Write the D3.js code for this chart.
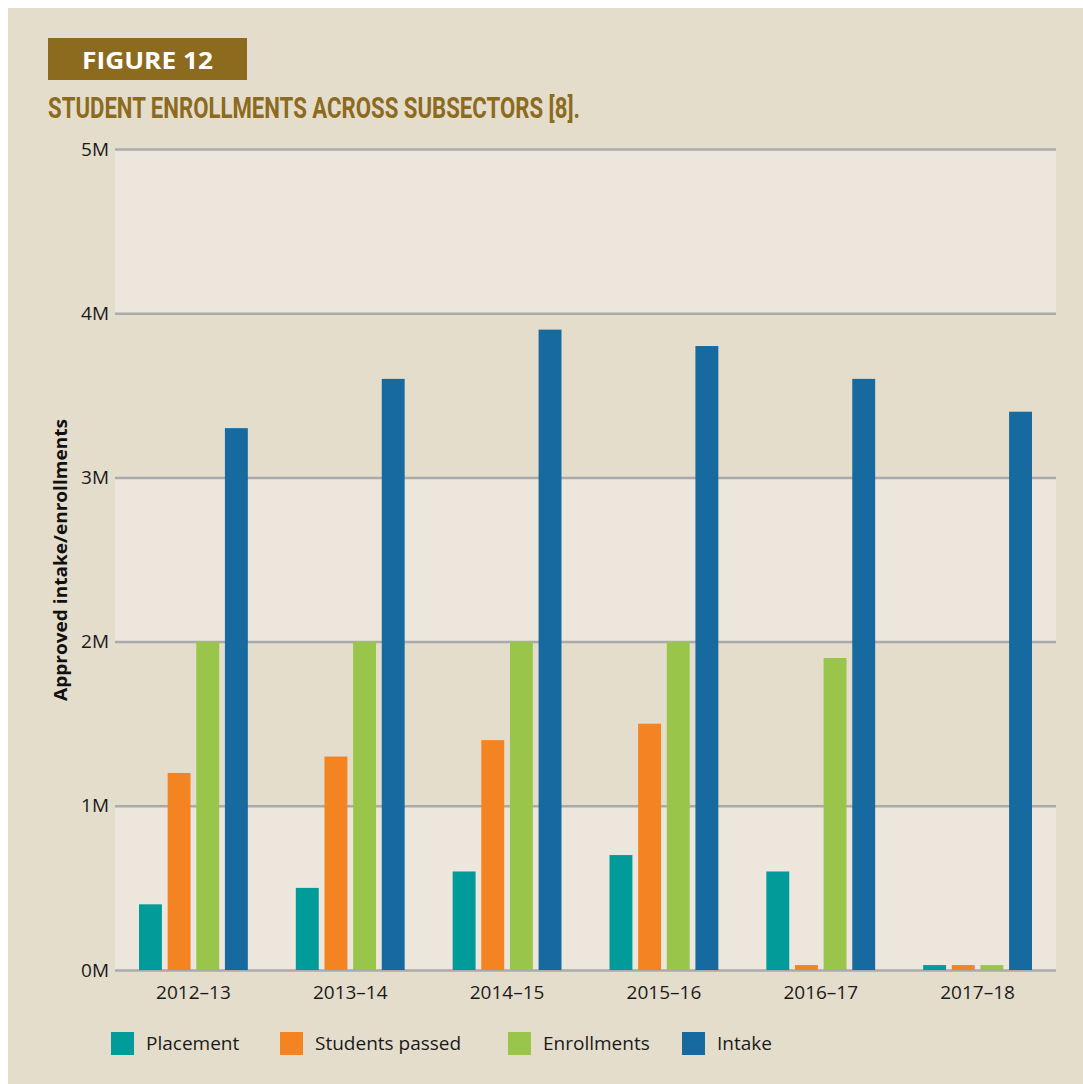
<!DOCTYPE html>
<html><head><meta charset="utf-8">
<script src="https://cdn.jsdelivr.net/npm/d3@7"></script>
<style>body{margin:0;background:#fff}svg{display:block}</style>
</head><body>
<svg id="c" width="1083" height="1084"></svg>
<script>
const categories = ["2012–13","2013–14","2014–15","2015–16","2016–17","2017–18"];
const seriesNames = ["Placement","Students passed","Enrollments","Intake"];
const placement = [0.4,0.5,0.6,0.7,0.6,0.03];
const studentsPassed = [1.2,1.3,1.4,1.5,0.03,0.03];
const enrollments = [2.0,2.0,2.0,2.0,1.9,0.03];
const intake = [3.3,3.6,3.9,3.8,3.6,3.4];
const yTicks = [0,1,2,3,4,5];
const colors = ["#019b9a","#f48322","#99c54b","#176aa0"];
const seriesValues = [placement, studentsPassed, enrollments, intake];

(function(){
const svg = d3.select("#c");
const font = "'Open Sans', 'Noto Sans', sans-serif";
svg.append("rect").attr("x",8).attr("y",8).attr("width",1075).attr("height",1076).attr("fill","#e5ddcc");

// header
svg.append("rect").attr("x",48).attr("y",38).attr("width",199).attr("height",42).attr("fill","#8c6a1e");
svg.append("text").attr("x",82).attr("y",69).attr("fill","#fff").attr("font-family",font)
  .attr("font-weight",700).attr("font-size",24).attr("textLength",131).attr("lengthAdjust","spacingAndGlyphs").text("FIGURE 12");
svg.append("text").attr("x",48).attr("y",118).attr("fill","#8c6a1e").attr("font-family","'Liberation Sans Narrow', 'Roboto', sans-serif")
  .attr("font-weight",700).attr("font-size",29).attr("textLength",532).attr("lengthAdjust","spacingAndGlyphs").text("STUDENT ENROLLMENTS ACROSS SUBSECTORS [8].");

const pL=115, pR=1056, pT=149, pB=970;
const x0 = d3.scaleBand().domain(categories).range([pL,pR]).padding(0);
const x1 = d3.scaleBand().domain(seriesNames).range([24, x0.bandwidth()-24]).paddingInner(0.2);
const y = d3.scaleLinear().domain([0,5]).range([pB,pT]);

// alternating bands
const g = svg.append("g");
for (let i=0;i<5;i++){
  g.append("rect").attr("x",pL).attr("width",pR-pL)
    .attr("y",y(i+1)).attr("height",y(i)-y(i+1))
    .attr("fill", i%2===0 ? "#ede6dc" : "#e5ddcc");
}
// gridlines
const yAxis = d3.axisLeft(y).tickValues(yTicks).tickFormat(d=>d+"M").tickSize(-(pR-pL)).tickPadding(6);
const ya = svg.append("g").attr("transform",`translate(${pL},0)`).call(yAxis);
ya.select(".domain").remove();
ya.selectAll(".tick line").attr("stroke","#aaaaaa").attr("stroke-width",2.5);
ya.selectAll(".tick text").attr("font-family",font).attr("font-size",19).attr("fill","#1a1a1a");

// bars
const groups = svg.append("g").selectAll("g").data(categories).join("g")
  .attr("transform",d=>`translate(${x0(d)},0)`);
groups.selectAll("rect").data((d,i)=>seriesNames.map((s,j)=>({s,v:seriesValues[j][i],c:colors[j]})))
  .join("rect").attr("x",d=>x1(d.s)).attr("width",x1.bandwidth())
  .attr("y",d=>y(d.v)).attr("height",d=>y(0)-y(d.v)).attr("fill",d=>d.c);

// x axis
const xAxis = d3.axisBottom(x0).tickSize(0).tickPadding(16);
const xa = svg.append("g").attr("transform",`translate(0,${pB})`).call(xAxis);
xa.select(".domain").attr("stroke","none");
xa.selectAll(".tick text").attr("font-family",font).attr("font-size",19).attr("fill","#1a1a1a");

// y title
svg.append("text").attr("transform","translate(67,560) rotate(-90)").attr("text-anchor","middle")
  .attr("font-family",font).attr("font-weight",700).attr("font-size",17).attr("fill","#111")
  .attr("textLength",282).attr("lengthAdjust","spacingAndGlyphs").text("Approved intake/enrollments");

// legend
const legX = [111,280,508,682];
const leg = svg.append("g").selectAll("g").data(seriesNames).join("g")
  .attr("transform",(d,i)=>`translate(${legX[i]},1032)`);
leg.append("rect").attr("width",23).attr("height",23).attr("fill",(d,i)=>colors[i]);
leg.append("text").attr("x",35).attr("y",18).attr("font-family",font).attr("font-size",19).attr("fill","#1a1a1a").text(d=>d);
})();
</script>
</body></html>
